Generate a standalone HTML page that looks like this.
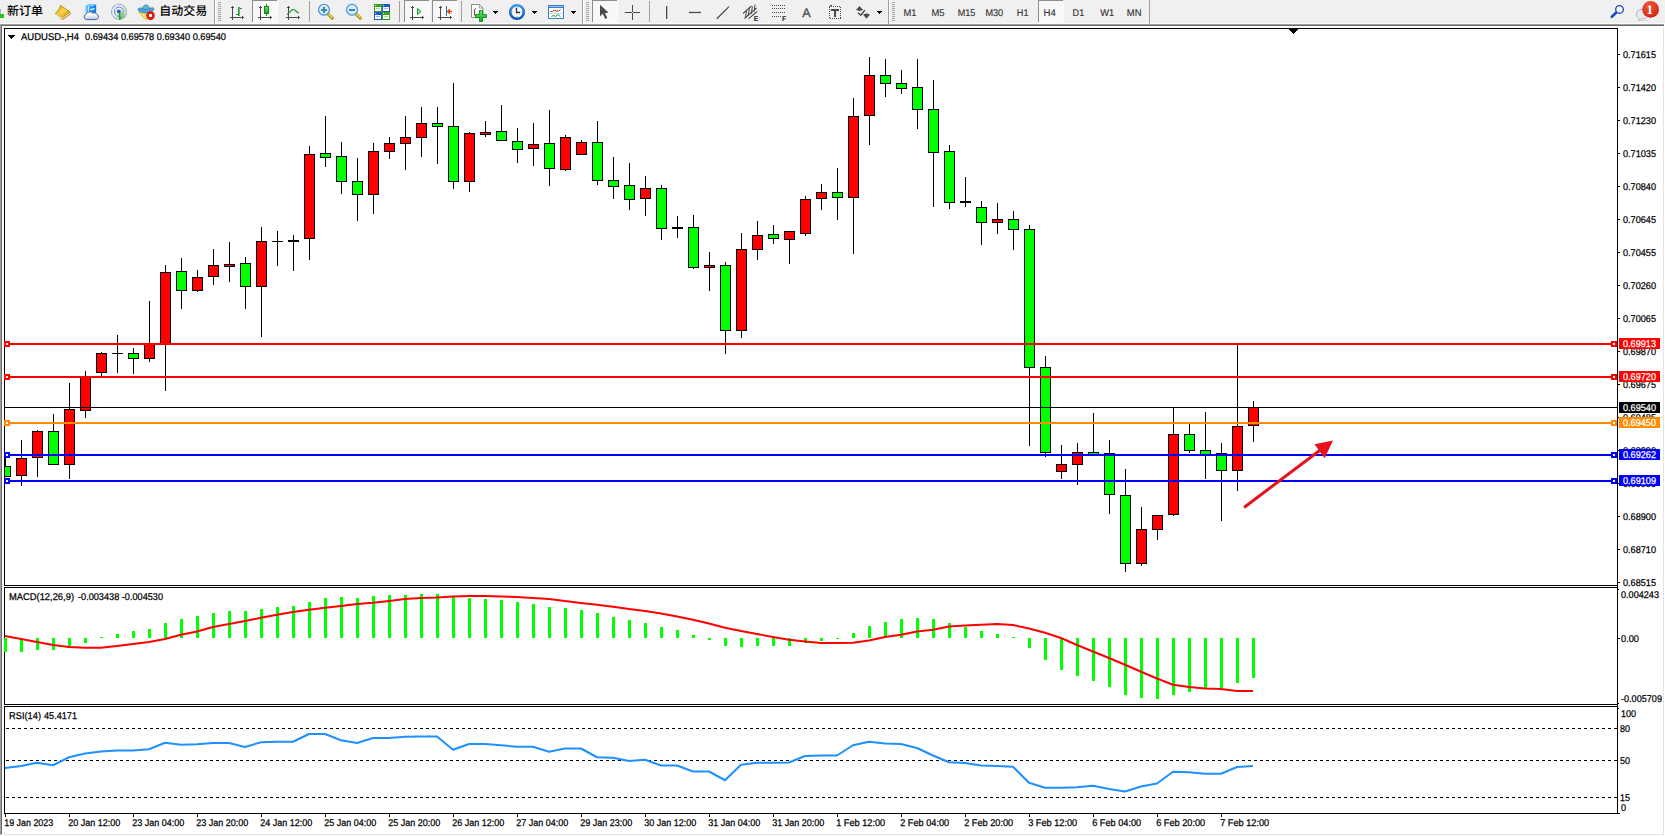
<!DOCTYPE html>
<html lang="zh"><head><meta charset="utf-8"><title>AUDUSD-,H4</title>
<style>html,body{margin:0;padding:0;background:#fff;overflow:hidden}body{width:1665px;height:836px;position:relative}text{white-space:pre}</style></head>
<body>
<svg width="1665" height="836" viewBox="0 0 1665 836" style="position:absolute;left:0;top:0;font-family:'Liberation Sans', sans-serif;text-rendering:geometricPrecision" shape-rendering="crispEdges">
<rect x="0" y="0" width="1665" height="836" fill="#fff"/>
<rect x="0" y="0" width="1665" height="24" fill="#f0f0f0"/>
<rect x="0" y="23" width="1665" height="1" fill="#fafafa"/>
<rect x="0" y="24" width="1664" height="1" fill="#a0a0a0"/>
<rect x="0" y="25" width="1664" height="1" fill="#696969"/>
<rect x="0" y="24" width="1" height="811" fill="#a0a0a0"/>
<rect x="1" y="25" width="1" height="809" fill="#696969"/>
<rect x="1663" y="27" width="1" height="808" fill="#e3e3e3"/>
<rect x="2" y="834" width="1662" height="1" fill="#e3e3e3"/>
<rect x="4" y="28" width="1614" height="1" fill="#000"/>
<rect x="4" y="585" width="1614" height="1" fill="#000"/>
<rect x="4" y="587" width="1614" height="1" fill="#000"/>
<rect x="4" y="704" width="1614" height="1" fill="#000"/>
<rect x="4" y="706" width="1614" height="1" fill="#000"/>
<rect x="4" y="813" width="1616" height="1" fill="#000"/>
<rect x="4" y="28" width="1" height="558" fill="#000"/>
<rect x="4" y="587" width="1" height="118" fill="#000"/>
<rect x="4" y="706" width="1" height="108" fill="#000"/>
<rect x="1617" y="28" width="1" height="786" fill="#000"/>
<rect x="1289" y="29" width="9" height="1" fill="#000"/>
<rect x="1290" y="30" width="7" height="1" fill="#000"/>
<rect x="1291" y="31" width="5" height="1" fill="#000"/>
<rect x="1292" y="32" width="3" height="1" fill="#000"/>
<rect x="1293" y="33" width="1" height="1" fill="#000"/>
<rect x="1618" y="54" width="2" height="1" fill="#000"/>
<text x="1623" y="57.6" font-size="9.8" fill="#000" stroke="#000" stroke-width=".25" text-anchor="start" textLength="33" lengthAdjust="spacingAndGlyphs">0.71615</text>
<rect x="1618" y="87" width="2" height="1" fill="#000"/>
<text x="1623" y="90.6" font-size="9.8" fill="#000" stroke="#000" stroke-width=".25" text-anchor="start" textLength="33" lengthAdjust="spacingAndGlyphs">0.71420</text>
<rect x="1618" y="120" width="2" height="1" fill="#000"/>
<text x="1623" y="123.6" font-size="9.8" fill="#000" stroke="#000" stroke-width=".25" text-anchor="start" textLength="33" lengthAdjust="spacingAndGlyphs">0.71230</text>
<rect x="1618" y="153" width="2" height="1" fill="#000"/>
<text x="1623" y="156.6" font-size="9.8" fill="#000" stroke="#000" stroke-width=".25" text-anchor="start" textLength="33" lengthAdjust="spacingAndGlyphs">0.71035</text>
<rect x="1618" y="186" width="2" height="1" fill="#000"/>
<text x="1623" y="189.6" font-size="9.8" fill="#000" stroke="#000" stroke-width=".25" text-anchor="start" textLength="33" lengthAdjust="spacingAndGlyphs">0.70840</text>
<rect x="1618" y="219" width="2" height="1" fill="#000"/>
<text x="1623" y="222.6" font-size="9.8" fill="#000" stroke="#000" stroke-width=".25" text-anchor="start" textLength="33" lengthAdjust="spacingAndGlyphs">0.70645</text>
<rect x="1618" y="252" width="2" height="1" fill="#000"/>
<text x="1623" y="255.6" font-size="9.8" fill="#000" stroke="#000" stroke-width=".25" text-anchor="start" textLength="33" lengthAdjust="spacingAndGlyphs">0.70455</text>
<rect x="1618" y="285" width="2" height="1" fill="#000"/>
<text x="1623" y="288.6" font-size="9.8" fill="#000" stroke="#000" stroke-width=".25" text-anchor="start" textLength="33" lengthAdjust="spacingAndGlyphs">0.70260</text>
<rect x="1618" y="318" width="2" height="1" fill="#000"/>
<text x="1623" y="321.6" font-size="9.8" fill="#000" stroke="#000" stroke-width=".25" text-anchor="start" textLength="33" lengthAdjust="spacingAndGlyphs">0.70065</text>
<rect x="1618" y="351" width="2" height="1" fill="#000"/>
<text x="1623" y="354.6" font-size="9.8" fill="#000" stroke="#000" stroke-width=".25" text-anchor="start" textLength="33" lengthAdjust="spacingAndGlyphs">0.69870</text>
<rect x="1618" y="384" width="2" height="1" fill="#000"/>
<text x="1623" y="387.6" font-size="9.8" fill="#000" stroke="#000" stroke-width=".25" text-anchor="start" textLength="33" lengthAdjust="spacingAndGlyphs">0.69675</text>
<rect x="1618" y="417" width="2" height="1" fill="#000"/>
<text x="1623" y="420.6" font-size="9.8" fill="#000" stroke="#000" stroke-width=".25" text-anchor="start" textLength="33" lengthAdjust="spacingAndGlyphs">0.69485</text>
<rect x="1618" y="450" width="2" height="1" fill="#000"/>
<text x="1623" y="453.6" font-size="9.8" fill="#000" stroke="#000" stroke-width=".25" text-anchor="start" textLength="33" lengthAdjust="spacingAndGlyphs">0.69290</text>
<rect x="1618" y="483" width="2" height="1" fill="#000"/>
<text x="1623" y="486.6" font-size="9.8" fill="#000" stroke="#000" stroke-width=".25" text-anchor="start" textLength="33" lengthAdjust="spacingAndGlyphs">0.69095</text>
<rect x="1618" y="516" width="2" height="1" fill="#000"/>
<text x="1623" y="519.6" font-size="9.8" fill="#000" stroke="#000" stroke-width=".25" text-anchor="start" textLength="33" lengthAdjust="spacingAndGlyphs">0.68900</text>
<rect x="1618" y="549" width="2" height="1" fill="#000"/>
<text x="1623" y="552.6" font-size="9.8" fill="#000" stroke="#000" stroke-width=".25" text-anchor="start" textLength="33" lengthAdjust="spacingAndGlyphs">0.68710</text>
<rect x="1618" y="582" width="2" height="1" fill="#000"/>
<text x="1623" y="585.6" font-size="9.8" fill="#000" stroke="#000" stroke-width=".25" text-anchor="start" textLength="33" lengthAdjust="spacingAndGlyphs">0.68515</text>
<g>
<rect x="5" y="457" width="1" height="20" fill="#000"/>
<rect x="5" y="466" width="6" height="11" fill="#000"/>
<rect x="5" y="467" width="5" height="9" fill="#00ff00"/>
<rect x="21" y="440" width="1" height="46" fill="#000"/>
<rect x="16" y="458" width="11" height="18" fill="#000"/>
<rect x="17" y="459" width="9" height="16" fill="#ff0000"/>
<rect x="37" y="430" width="1" height="47" fill="#000"/>
<rect x="32" y="431" width="11" height="27" fill="#000"/>
<rect x="33" y="432" width="9" height="25" fill="#ff0000"/>
<rect x="53" y="414" width="1" height="51" fill="#000"/>
<rect x="48" y="431" width="11" height="34" fill="#000"/>
<rect x="49" y="432" width="9" height="32" fill="#00ff00"/>
<rect x="69" y="383" width="1" height="96" fill="#000"/>
<rect x="64" y="409" width="11" height="56" fill="#000"/>
<rect x="65" y="410" width="9" height="54" fill="#ff0000"/>
<rect x="85" y="371" width="1" height="47" fill="#000"/>
<rect x="80" y="376" width="11" height="35" fill="#000"/>
<rect x="81" y="377" width="9" height="33" fill="#ff0000"/>
<rect x="101" y="352" width="1" height="24" fill="#000"/>
<rect x="96" y="353" width="11" height="20" fill="#000"/>
<rect x="97" y="354" width="9" height="18" fill="#ff0000"/>
<rect x="117" y="335" width="1" height="38" fill="#000"/>
<rect x="112" y="353" width="11" height="1" fill="#000"/>
<rect x="133" y="348" width="1" height="26" fill="#000"/>
<rect x="128" y="353" width="11" height="6" fill="#000"/>
<rect x="129" y="354" width="9" height="4" fill="#00ff00"/>
<rect x="149" y="301" width="1" height="61" fill="#000"/>
<rect x="144" y="344" width="11" height="15" fill="#000"/>
<rect x="145" y="345" width="9" height="13" fill="#ff0000"/>
<rect x="165" y="265" width="1" height="126" fill="#000"/>
<rect x="160" y="272" width="11" height="73" fill="#000"/>
<rect x="161" y="273" width="9" height="71" fill="#ff0000"/>
<rect x="181" y="258" width="1" height="51" fill="#000"/>
<rect x="176" y="271" width="11" height="20" fill="#000"/>
<rect x="177" y="272" width="9" height="18" fill="#00ff00"/>
<rect x="197" y="270" width="1" height="22" fill="#000"/>
<rect x="192" y="277" width="11" height="14" fill="#000"/>
<rect x="193" y="278" width="9" height="12" fill="#ff0000"/>
<rect x="213" y="249" width="1" height="36" fill="#000"/>
<rect x="208" y="265" width="11" height="12" fill="#000"/>
<rect x="209" y="266" width="9" height="10" fill="#ff0000"/>
<rect x="229" y="242" width="1" height="40" fill="#000"/>
<rect x="224" y="264" width="11" height="3" fill="#000"/>
<rect x="225" y="265" width="9" height="1" fill="#ff0000"/>
<rect x="245" y="257" width="1" height="52" fill="#000"/>
<rect x="240" y="263" width="11" height="24" fill="#000"/>
<rect x="241" y="264" width="9" height="22" fill="#00ff00"/>
<rect x="261" y="227" width="1" height="110" fill="#000"/>
<rect x="256" y="241" width="11" height="46" fill="#000"/>
<rect x="257" y="242" width="9" height="44" fill="#ff0000"/>
<rect x="277" y="231" width="1" height="35" fill="#000"/>
<rect x="272" y="241" width="11" height="1" fill="#000"/>
<rect x="293" y="235" width="1" height="36" fill="#000"/>
<rect x="288" y="240" width="11" height="2" fill="#000"/>
<rect x="309" y="146" width="1" height="114" fill="#000"/>
<rect x="304" y="154" width="11" height="85" fill="#000"/>
<rect x="305" y="155" width="9" height="83" fill="#ff0000"/>
<rect x="325" y="116" width="1" height="51" fill="#000"/>
<rect x="320" y="153" width="11" height="5" fill="#000"/>
<rect x="321" y="154" width="9" height="3" fill="#00ff00"/>
<rect x="341" y="142" width="1" height="52" fill="#000"/>
<rect x="336" y="156" width="11" height="26" fill="#000"/>
<rect x="337" y="157" width="9" height="24" fill="#00ff00"/>
<rect x="357" y="158" width="1" height="63" fill="#000"/>
<rect x="352" y="181" width="11" height="14" fill="#000"/>
<rect x="353" y="182" width="9" height="12" fill="#00ff00"/>
<rect x="373" y="143" width="1" height="71" fill="#000"/>
<rect x="368" y="151" width="11" height="44" fill="#000"/>
<rect x="369" y="152" width="9" height="42" fill="#ff0000"/>
<rect x="389" y="137" width="1" height="22" fill="#000"/>
<rect x="384" y="143" width="11" height="9" fill="#000"/>
<rect x="385" y="144" width="9" height="7" fill="#ff0000"/>
<rect x="405" y="116" width="1" height="54" fill="#000"/>
<rect x="400" y="137" width="11" height="7" fill="#000"/>
<rect x="401" y="138" width="9" height="5" fill="#ff0000"/>
<rect x="421" y="107" width="1" height="50" fill="#000"/>
<rect x="416" y="123" width="11" height="15" fill="#000"/>
<rect x="417" y="124" width="9" height="13" fill="#ff0000"/>
<rect x="437" y="107" width="1" height="57" fill="#000"/>
<rect x="432" y="123" width="11" height="4" fill="#000"/>
<rect x="433" y="124" width="9" height="2" fill="#00ff00"/>
<rect x="453" y="83" width="1" height="106" fill="#000"/>
<rect x="448" y="126" width="11" height="56" fill="#000"/>
<rect x="449" y="127" width="9" height="54" fill="#00ff00"/>
<rect x="469" y="132" width="1" height="60" fill="#000"/>
<rect x="464" y="133" width="11" height="49" fill="#000"/>
<rect x="465" y="134" width="9" height="47" fill="#ff0000"/>
<rect x="485" y="121" width="1" height="16" fill="#000"/>
<rect x="480" y="132" width="11" height="3" fill="#000"/>
<rect x="481" y="133" width="9" height="1" fill="#ff0000"/>
<rect x="501" y="105" width="1" height="36" fill="#000"/>
<rect x="496" y="131" width="11" height="10" fill="#000"/>
<rect x="497" y="132" width="9" height="8" fill="#00ff00"/>
<rect x="517" y="128" width="1" height="35" fill="#000"/>
<rect x="512" y="141" width="11" height="9" fill="#000"/>
<rect x="513" y="142" width="9" height="7" fill="#00ff00"/>
<rect x="533" y="123" width="1" height="43" fill="#000"/>
<rect x="528" y="144" width="11" height="5" fill="#000"/>
<rect x="529" y="145" width="9" height="3" fill="#ff0000"/>
<rect x="549" y="110" width="1" height="76" fill="#000"/>
<rect x="544" y="143" width="11" height="26" fill="#000"/>
<rect x="545" y="144" width="9" height="24" fill="#00ff00"/>
<rect x="565" y="135" width="1" height="36" fill="#000"/>
<rect x="560" y="137" width="11" height="33" fill="#000"/>
<rect x="561" y="138" width="9" height="31" fill="#ff0000"/>
<rect x="581" y="140" width="1" height="15" fill="#000"/>
<rect x="576" y="142" width="11" height="13" fill="#000"/>
<rect x="577" y="143" width="9" height="11" fill="#ff0000"/>
<rect x="597" y="121" width="1" height="64" fill="#000"/>
<rect x="592" y="142" width="11" height="39" fill="#000"/>
<rect x="593" y="143" width="9" height="37" fill="#00ff00"/>
<rect x="613" y="157" width="1" height="42" fill="#000"/>
<rect x="608" y="180" width="11" height="7" fill="#000"/>
<rect x="609" y="181" width="9" height="5" fill="#00ff00"/>
<rect x="629" y="163" width="1" height="47" fill="#000"/>
<rect x="624" y="185" width="11" height="15" fill="#000"/>
<rect x="625" y="186" width="9" height="13" fill="#00ff00"/>
<rect x="645" y="176" width="1" height="40" fill="#000"/>
<rect x="640" y="188" width="11" height="11" fill="#000"/>
<rect x="641" y="189" width="9" height="9" fill="#ff0000"/>
<rect x="661" y="185" width="1" height="55" fill="#000"/>
<rect x="656" y="188" width="11" height="41" fill="#000"/>
<rect x="657" y="189" width="9" height="39" fill="#00ff00"/>
<rect x="677" y="216" width="1" height="22" fill="#000"/>
<rect x="672" y="227" width="11" height="2" fill="#000"/>
<rect x="693" y="215" width="1" height="54" fill="#000"/>
<rect x="688" y="227" width="11" height="41" fill="#000"/>
<rect x="689" y="228" width="9" height="39" fill="#00ff00"/>
<rect x="709" y="252" width="1" height="39" fill="#000"/>
<rect x="704" y="265" width="11" height="3" fill="#000"/>
<rect x="705" y="266" width="9" height="1" fill="#ff0000"/>
<rect x="725" y="262" width="1" height="92" fill="#000"/>
<rect x="720" y="265" width="11" height="66" fill="#000"/>
<rect x="721" y="266" width="9" height="64" fill="#00ff00"/>
<rect x="741" y="233" width="1" height="105" fill="#000"/>
<rect x="736" y="249" width="11" height="82" fill="#000"/>
<rect x="737" y="250" width="9" height="80" fill="#ff0000"/>
<rect x="757" y="221" width="1" height="39" fill="#000"/>
<rect x="752" y="235" width="11" height="15" fill="#000"/>
<rect x="753" y="236" width="9" height="13" fill="#ff0000"/>
<rect x="773" y="225" width="1" height="19" fill="#000"/>
<rect x="768" y="234" width="11" height="5" fill="#000"/>
<rect x="769" y="235" width="9" height="3" fill="#00ff00"/>
<rect x="789" y="231" width="1" height="33" fill="#000"/>
<rect x="784" y="231" width="11" height="9" fill="#000"/>
<rect x="785" y="232" width="9" height="7" fill="#ff0000"/>
<rect x="805" y="196" width="1" height="40" fill="#000"/>
<rect x="800" y="199" width="11" height="35" fill="#000"/>
<rect x="801" y="200" width="9" height="33" fill="#ff0000"/>
<rect x="821" y="184" width="1" height="26" fill="#000"/>
<rect x="816" y="192" width="11" height="7" fill="#000"/>
<rect x="817" y="193" width="9" height="5" fill="#ff0000"/>
<rect x="837" y="168" width="1" height="52" fill="#000"/>
<rect x="832" y="192" width="11" height="6" fill="#000"/>
<rect x="833" y="193" width="9" height="4" fill="#00ff00"/>
<rect x="853" y="98" width="1" height="156" fill="#000"/>
<rect x="848" y="116" width="11" height="82" fill="#000"/>
<rect x="849" y="117" width="9" height="80" fill="#ff0000"/>
<rect x="869" y="57" width="1" height="88" fill="#000"/>
<rect x="864" y="75" width="11" height="41" fill="#000"/>
<rect x="865" y="76" width="9" height="39" fill="#ff0000"/>
<rect x="885" y="59" width="1" height="38" fill="#000"/>
<rect x="880" y="75" width="11" height="9" fill="#000"/>
<rect x="881" y="76" width="9" height="7" fill="#00ff00"/>
<rect x="901" y="70" width="1" height="24" fill="#000"/>
<rect x="896" y="83" width="11" height="6" fill="#000"/>
<rect x="897" y="84" width="9" height="4" fill="#00ff00"/>
<rect x="917" y="59" width="1" height="70" fill="#000"/>
<rect x="912" y="87" width="11" height="23" fill="#000"/>
<rect x="913" y="88" width="9" height="21" fill="#00ff00"/>
<rect x="933" y="80" width="1" height="127" fill="#000"/>
<rect x="928" y="109" width="11" height="44" fill="#000"/>
<rect x="929" y="110" width="9" height="42" fill="#00ff00"/>
<rect x="949" y="145" width="1" height="64" fill="#000"/>
<rect x="944" y="151" width="11" height="52" fill="#000"/>
<rect x="945" y="152" width="9" height="50" fill="#00ff00"/>
<rect x="965" y="177" width="1" height="30" fill="#000"/>
<rect x="960" y="201" width="11" height="2" fill="#000"/>
<rect x="981" y="201" width="1" height="44" fill="#000"/>
<rect x="976" y="207" width="11" height="16" fill="#000"/>
<rect x="977" y="208" width="9" height="14" fill="#00ff00"/>
<rect x="997" y="203" width="1" height="31" fill="#000"/>
<rect x="992" y="219" width="11" height="4" fill="#000"/>
<rect x="993" y="220" width="9" height="2" fill="#ff0000"/>
<rect x="1013" y="211" width="1" height="39" fill="#000"/>
<rect x="1008" y="219" width="11" height="11" fill="#000"/>
<rect x="1009" y="220" width="9" height="9" fill="#00ff00"/>
<rect x="1029" y="225" width="1" height="221" fill="#000"/>
<rect x="1024" y="229" width="11" height="139" fill="#000"/>
<rect x="1025" y="230" width="9" height="137" fill="#00ff00"/>
<rect x="1045" y="356" width="1" height="101" fill="#000"/>
<rect x="1040" y="367" width="11" height="86" fill="#000"/>
<rect x="1041" y="368" width="9" height="84" fill="#00ff00"/>
<rect x="1061" y="445" width="1" height="34" fill="#000"/>
<rect x="1056" y="464" width="11" height="8" fill="#000"/>
<rect x="1057" y="465" width="9" height="6" fill="#ff0000"/>
<rect x="1077" y="443" width="1" height="42" fill="#000"/>
<rect x="1072" y="452" width="11" height="13" fill="#000"/>
<rect x="1073" y="453" width="9" height="11" fill="#ff0000"/>
<rect x="1093" y="413" width="1" height="42" fill="#000"/>
<rect x="1088" y="452" width="11" height="3" fill="#000"/>
<rect x="1089" y="453" width="9" height="1" fill="#00ff00"/>
<rect x="1109" y="440" width="1" height="74" fill="#000"/>
<rect x="1104" y="453" width="11" height="42" fill="#000"/>
<rect x="1105" y="454" width="9" height="40" fill="#00ff00"/>
<rect x="1125" y="469" width="1" height="103" fill="#000"/>
<rect x="1120" y="495" width="11" height="69" fill="#000"/>
<rect x="1121" y="496" width="9" height="67" fill="#00ff00"/>
<rect x="1141" y="507" width="1" height="59" fill="#000"/>
<rect x="1136" y="529" width="11" height="35" fill="#000"/>
<rect x="1137" y="530" width="9" height="33" fill="#ff0000"/>
<rect x="1157" y="515" width="1" height="25" fill="#000"/>
<rect x="1152" y="515" width="11" height="15" fill="#000"/>
<rect x="1153" y="516" width="9" height="13" fill="#ff0000"/>
<rect x="1173" y="408" width="1" height="108" fill="#000"/>
<rect x="1168" y="434" width="11" height="81" fill="#000"/>
<rect x="1169" y="435" width="9" height="79" fill="#ff0000"/>
<rect x="1189" y="424" width="1" height="29" fill="#000"/>
<rect x="1184" y="434" width="11" height="17" fill="#000"/>
<rect x="1185" y="435" width="9" height="15" fill="#00ff00"/>
<rect x="1205" y="412" width="1" height="67" fill="#000"/>
<rect x="1200" y="450" width="11" height="5" fill="#000"/>
<rect x="1201" y="451" width="9" height="3" fill="#00ff00"/>
<rect x="1221" y="443" width="1" height="78" fill="#000"/>
<rect x="1216" y="453" width="11" height="18" fill="#000"/>
<rect x="1217" y="454" width="9" height="16" fill="#00ff00"/>
<rect x="1237" y="345" width="1" height="146" fill="#000"/>
<rect x="1232" y="426" width="11" height="45" fill="#000"/>
<rect x="1233" y="427" width="9" height="43" fill="#ff0000"/>
<rect x="1253" y="401" width="1" height="41" fill="#000"/>
<rect x="1248" y="407" width="11" height="19" fill="#000"/>
<rect x="1249" y="408" width="9" height="17" fill="#ff0000"/>
</g>
<rect x="5" y="407" width="1612" height="1" fill="#000"/>
<rect x="5" y="343" width="1612" height="2" fill="#ff0000"/>
<rect x="4" y="341" width="6" height="6" fill="#ff0000"/>
<rect x="6" y="343" width="2" height="2" fill="#fff"/>
<rect x="1611" y="341" width="6" height="6" fill="#ff0000"/>
<rect x="1613" y="343" width="2" height="2" fill="#fff"/>
<rect x="5" y="376" width="1612" height="2" fill="#ff0000"/>
<rect x="4" y="374" width="6" height="6" fill="#ff0000"/>
<rect x="6" y="376" width="2" height="2" fill="#fff"/>
<rect x="1611" y="374" width="6" height="6" fill="#ff0000"/>
<rect x="1613" y="376" width="2" height="2" fill="#fff"/>
<rect x="5" y="422" width="1612" height="2" fill="#ff8c00"/>
<rect x="4" y="420" width="6" height="6" fill="#ff8c00"/>
<rect x="6" y="422" width="2" height="2" fill="#fff"/>
<rect x="1611" y="420" width="6" height="6" fill="#ff8c00"/>
<rect x="1613" y="422" width="2" height="2" fill="#fff"/>
<rect x="5" y="454" width="1612" height="2" fill="#0000ff"/>
<rect x="4" y="452" width="6" height="6" fill="#0000ff"/>
<rect x="6" y="454" width="2" height="2" fill="#fff"/>
<rect x="1611" y="452" width="6" height="6" fill="#0000ff"/>
<rect x="1613" y="454" width="2" height="2" fill="#fff"/>
<rect x="5" y="480" width="1612" height="2" fill="#0000ff"/>
<rect x="4" y="478" width="6" height="6" fill="#0000ff"/>
<rect x="6" y="480" width="2" height="2" fill="#fff"/>
<rect x="1611" y="478" width="6" height="6" fill="#0000ff"/>
<rect x="1613" y="480" width="2" height="2" fill="#fff"/>
<rect x="1619" y="338" width="41" height="11" fill="#ff0000"/>
<text x="1623" y="347.1" font-size="9.8" fill="#fff" stroke="#fff" stroke-width=".25" text-anchor="start" textLength="33" lengthAdjust="spacingAndGlyphs">0.69913</text>
<rect x="1619" y="371" width="41" height="11" fill="#ff0000"/>
<text x="1623" y="380.1" font-size="9.8" fill="#fff" stroke="#fff" stroke-width=".25" text-anchor="start" textLength="33" lengthAdjust="spacingAndGlyphs">0.69720</text>
<rect x="1619" y="417" width="41" height="11" fill="#ff8c00"/>
<text x="1623" y="426.1" font-size="9.8" fill="#fff" stroke="#fff" stroke-width=".25" text-anchor="start" textLength="33" lengthAdjust="spacingAndGlyphs">0.69450</text>
<rect x="1619" y="449" width="41" height="11" fill="#0000ff"/>
<text x="1623" y="458.1" font-size="9.8" fill="#fff" stroke="#fff" stroke-width=".25" text-anchor="start" textLength="33" lengthAdjust="spacingAndGlyphs">0.69262</text>
<rect x="1619" y="475" width="41" height="11" fill="#0000ff"/>
<text x="1623" y="484.1" font-size="9.8" fill="#fff" stroke="#fff" stroke-width=".25" text-anchor="start" textLength="33" lengthAdjust="spacingAndGlyphs">0.69109</text>
<rect x="1619" y="402" width="41" height="11" fill="#000"/>
<text x="1623" y="411.1" font-size="9.8" fill="#fff" stroke="#fff" stroke-width=".25" text-anchor="start" textLength="33" lengthAdjust="spacingAndGlyphs">0.69540</text>
<g shape-rendering="auto">
<line x1="1244" y1="507.5" x2="1322" y2="448.7" stroke="#e8111b" stroke-width="3"/>
<path d="M1333 440.5 L1314.5 444.3 L1324.6 458.2 Z" fill="#e8111b"/>
</g>
<rect x="8" y="35" width="7" height="1" fill="#000"/>
<rect x="9" y="36" width="5" height="1" fill="#000"/>
<rect x="10" y="37" width="3" height="1" fill="#000"/>
<rect x="11" y="38" width="1" height="1" fill="#000"/>
<text x="21" y="40" font-size="9.8" fill="#000" stroke="#000" stroke-width=".25" text-anchor="start" textLength="58" lengthAdjust="spacingAndGlyphs">AUDUSD-,H4</text>
<text x="85" y="40" font-size="9.8" fill="#000" stroke="#000" stroke-width=".25" text-anchor="start" textLength="141" lengthAdjust="spacingAndGlyphs">0.69434 0.69578 0.69340 0.69540</text>
<text x="9" y="600" font-size="9.8" fill="#000" stroke="#000" stroke-width=".25" text-anchor="start" textLength="65" lengthAdjust="spacingAndGlyphs">MACD(12,26,9)</text>
<text x="78" y="600" font-size="9.8" fill="#000" stroke="#000" stroke-width=".25" text-anchor="start" textLength="85" lengthAdjust="spacingAndGlyphs">-0.003438 -0.004530</text>
<text x="9" y="719" font-size="9.8" fill="#000" stroke="#000" stroke-width=".25" text-anchor="start" textLength="32" lengthAdjust="spacingAndGlyphs">RSI(14)</text>
<text x="44" y="719" font-size="9.8" fill="#000" stroke="#000" stroke-width=".25" text-anchor="start" textLength="33" lengthAdjust="spacingAndGlyphs">45.4171</text>
<rect x="4" y="638" width="3" height="14" fill="#00ff00"/>
<rect x="20" y="638" width="3" height="14" fill="#00ff00"/>
<rect x="36" y="638" width="3" height="12" fill="#00ff00"/>
<rect x="52" y="638" width="3" height="12" fill="#00ff00"/>
<rect x="68" y="638" width="3" height="10" fill="#00ff00"/>
<rect x="84" y="638" width="3" height="5" fill="#00ff00"/>
<rect x="100" y="637" width="3" height="1" fill="#00ff00"/>
<rect x="116" y="634" width="3" height="4" fill="#00ff00"/>
<rect x="132" y="631" width="3" height="7" fill="#00ff00"/>
<rect x="148" y="629" width="3" height="9" fill="#00ff00"/>
<rect x="164" y="623" width="3" height="15" fill="#00ff00"/>
<rect x="180" y="619" width="3" height="19" fill="#00ff00"/>
<rect x="196" y="616" width="3" height="22" fill="#00ff00"/>
<rect x="212" y="613" width="3" height="25" fill="#00ff00"/>
<rect x="228" y="611" width="3" height="27" fill="#00ff00"/>
<rect x="244" y="611" width="3" height="27" fill="#00ff00"/>
<rect x="260" y="609" width="3" height="29" fill="#00ff00"/>
<rect x="276" y="607" width="3" height="31" fill="#00ff00"/>
<rect x="292" y="606" width="3" height="32" fill="#00ff00"/>
<rect x="308" y="602" width="3" height="36" fill="#00ff00"/>
<rect x="324" y="598" width="3" height="40" fill="#00ff00"/>
<rect x="340" y="597" width="3" height="41" fill="#00ff00"/>
<rect x="356" y="598" width="3" height="40" fill="#00ff00"/>
<rect x="372" y="596" width="3" height="42" fill="#00ff00"/>
<rect x="388" y="595" width="3" height="43" fill="#00ff00"/>
<rect x="404" y="595" width="3" height="43" fill="#00ff00"/>
<rect x="420" y="594" width="3" height="44" fill="#00ff00"/>
<rect x="436" y="594" width="3" height="44" fill="#00ff00"/>
<rect x="452" y="597" width="3" height="41" fill="#00ff00"/>
<rect x="468" y="598" width="3" height="40" fill="#00ff00"/>
<rect x="484" y="599" width="3" height="39" fill="#00ff00"/>
<rect x="500" y="600" width="3" height="38" fill="#00ff00"/>
<rect x="516" y="602" width="3" height="36" fill="#00ff00"/>
<rect x="532" y="604" width="3" height="34" fill="#00ff00"/>
<rect x="548" y="607" width="3" height="31" fill="#00ff00"/>
<rect x="564" y="608" width="3" height="30" fill="#00ff00"/>
<rect x="580" y="610" width="3" height="28" fill="#00ff00"/>
<rect x="596" y="613" width="3" height="25" fill="#00ff00"/>
<rect x="612" y="617" width="3" height="21" fill="#00ff00"/>
<rect x="628" y="620" width="3" height="18" fill="#00ff00"/>
<rect x="644" y="623" width="3" height="15" fill="#00ff00"/>
<rect x="660" y="627" width="3" height="11" fill="#00ff00"/>
<rect x="676" y="630" width="3" height="8" fill="#00ff00"/>
<rect x="692" y="635" width="3" height="3" fill="#00ff00"/>
<rect x="708" y="638" width="3" height="2" fill="#00ff00"/>
<rect x="724" y="638" width="3" height="8" fill="#00ff00"/>
<rect x="740" y="638" width="3" height="9" fill="#00ff00"/>
<rect x="756" y="638" width="3" height="8" fill="#00ff00"/>
<rect x="772" y="638" width="3" height="8" fill="#00ff00"/>
<rect x="788" y="638" width="3" height="8" fill="#00ff00"/>
<rect x="804" y="638" width="3" height="5" fill="#00ff00"/>
<rect x="820" y="638" width="3" height="3" fill="#00ff00"/>
<rect x="836" y="638" width="3" height="1" fill="#00ff00"/>
<rect x="852" y="633" width="3" height="5" fill="#00ff00"/>
<rect x="868" y="626" width="3" height="12" fill="#00ff00"/>
<rect x="884" y="622" width="3" height="16" fill="#00ff00"/>
<rect x="900" y="619" width="3" height="19" fill="#00ff00"/>
<rect x="916" y="618" width="3" height="20" fill="#00ff00"/>
<rect x="932" y="619" width="3" height="19" fill="#00ff00"/>
<rect x="948" y="623" width="3" height="15" fill="#00ff00"/>
<rect x="964" y="627" width="3" height="11" fill="#00ff00"/>
<rect x="980" y="631" width="3" height="7" fill="#00ff00"/>
<rect x="996" y="634" width="3" height="4" fill="#00ff00"/>
<rect x="1012" y="637" width="3" height="1" fill="#00ff00"/>
<rect x="1028" y="638" width="3" height="10" fill="#00ff00"/>
<rect x="1044" y="638" width="3" height="22" fill="#00ff00"/>
<rect x="1060" y="638" width="3" height="32" fill="#00ff00"/>
<rect x="1076" y="638" width="3" height="38" fill="#00ff00"/>
<rect x="1092" y="638" width="3" height="43" fill="#00ff00"/>
<rect x="1108" y="638" width="3" height="49" fill="#00ff00"/>
<rect x="1124" y="638" width="3" height="57" fill="#00ff00"/>
<rect x="1140" y="638" width="3" height="60" fill="#00ff00"/>
<rect x="1156" y="638" width="3" height="61" fill="#00ff00"/>
<rect x="1172" y="638" width="3" height="57" fill="#00ff00"/>
<rect x="1188" y="638" width="3" height="54" fill="#00ff00"/>
<rect x="1204" y="638" width="3" height="51" fill="#00ff00"/>
<rect x="1220" y="638" width="3" height="50" fill="#00ff00"/>
<rect x="1236" y="638" width="3" height="45" fill="#00ff00"/>
<rect x="1252" y="638" width="3" height="40" fill="#00ff00"/>
<polyline points="5,636 21,639 37,642 53,645 69,647 85,647.75 101,647.75 117,646 133,644 149,642 165,639 181,634.75 197,631.5 213,627 229,624 245,621 261,617.75 277,614.75 293,612 309,609.75 325,607.75 341,606 357,604 373,602.75 389,601 405,599 421,598 437,597.5 453,596.5 469,596 485,596 501,596.5 517,597 533,598 549,599 565,601 581,603 597,604.75 613,606.75 629,609 645,611 661,613.5 677,616.5 693,619.75 709,623.5 725,627.75 741,631 757,634 773,637 789,639.75 805,641.5 821,643 837,643 853,642.75 869,640.5 885,637 901,634.75 917,631.5 933,629.75 949,626.5 965,625.5 981,624.75 997,624 1013,625 1029,628.5 1045,632.75 1061,638 1077,645 1093,651.5 1109,658 1125,664.75 1141,671.75 1157,678.5 1173,684.75 1189,687 1205,688.5 1221,689 1237,691 1253,691" fill="none" stroke="#ff0000" stroke-width="2" shape-rendering="auto" stroke-linejoin="round"/>
<rect x="1618" y="638" width="2" height="1" fill="#000"/>
<text x="1621" y="642" font-size="9.8" fill="#000" stroke="#000" stroke-width=".25" text-anchor="start" textLength="18" lengthAdjust="spacingAndGlyphs">0.00</text>
<text x="1621" y="598" font-size="9.8" fill="#000" stroke="#000" stroke-width=".25" text-anchor="start" textLength="38" lengthAdjust="spacingAndGlyphs">0.004243</text>
<text x="1621" y="701.5" font-size="9.8" fill="#000" stroke="#000" stroke-width=".25" text-anchor="start" textLength="41" lengthAdjust="spacingAndGlyphs">-0.005709</text>
<line x1="6" x2="1617" y1="728.5" y2="728.5" stroke="#000" stroke-width="1" stroke-dasharray="3 3"/>
<line x1="6" x2="1617" y1="760.5" y2="760.5" stroke="#000" stroke-width="1" stroke-dasharray="3 3"/>
<line x1="6" x2="1617" y1="797.5" y2="797.5" stroke="#000" stroke-width="1" stroke-dasharray="3 3"/>
<polyline points="5,768 21,766 37,762.75 53,765.25 69,757.25 85,753.5 101,751.5 117,750.5 133,750.5 149,749.25 165,742.75 181,744.75 197,744.25 213,743 229,743 245,747 261,742.25 277,741.75 293,741.75 309,734 325,734 341,740.25 357,743 373,738 389,738 405,736.75 421,736.5 437,736.5 453,749.75 469,744 485,744 501,745.25 517,746.75 533,746.75 549,751.75 565,748.5 581,748.5 597,757.25 613,757.75 629,761 645,759.75 661,765.5 677,765.5 693,771.5 709,771.5 725,780.25 741,764.75 757,762.75 773,762.75 789,762.5 805,756 821,755.5 837,755.5 853,745.25 869,741.75 885,743.5 901,744 917,748 933,755.5 949,762.25 965,763 981,765.5 997,766 1013,766.75 1029,782.75 1045,787.75 1061,787.75 1077,787.25 1093,785.75 1109,789 1125,791.5 1141,786.5 1157,783.5 1173,771.75 1189,772.25 1205,773.75 1221,773.75 1237,767 1253,766" fill="none" stroke="#1e90ff" stroke-width="2" shape-rendering="auto" stroke-linejoin="round"/>
<text x="1621" y="717" font-size="9.8" fill="#000" stroke="#000" stroke-width=".25" text-anchor="start" textLength="15" lengthAdjust="spacingAndGlyphs">100</text>
<text x="1620" y="732" font-size="9.8" fill="#000" stroke="#000" stroke-width=".25" text-anchor="start" textLength="10" lengthAdjust="spacingAndGlyphs">80</text>
<text x="1620" y="764" font-size="9.8" fill="#000" stroke="#000" stroke-width=".25" text-anchor="start" textLength="10" lengthAdjust="spacingAndGlyphs">50</text>
<text x="1620" y="801" font-size="9.8" fill="#000" stroke="#000" stroke-width=".25" text-anchor="start" textLength="10" lengthAdjust="spacingAndGlyphs">15</text>
<text x="1621" y="811" font-size="9.8" fill="#000" stroke="#000" stroke-width=".25" text-anchor="start" textLength="5" lengthAdjust="spacingAndGlyphs">0</text>
<rect x="1618" y="589" width="1" height="1" fill="#000"/>
<rect x="1618" y="703" width="1" height="1" fill="#000"/>
<rect x="1618" y="708" width="1" height="1" fill="#000"/>
<rect x="5" y="813" width="1" height="4" fill="#000"/>
<text x="4.2" y="826" font-size="9.8" fill="#000" stroke="#000" stroke-width=".25" text-anchor="start" textLength="49" lengthAdjust="spacingAndGlyphs">19 Jan 2023</text>
<rect x="69" y="813" width="1" height="4" fill="#000"/>
<text x="68.2" y="826" font-size="9.8" fill="#000" stroke="#000" stroke-width=".25" text-anchor="start" textLength="52" lengthAdjust="spacingAndGlyphs">20 Jan 12:00</text>
<rect x="133" y="813" width="1" height="4" fill="#000"/>
<text x="132.2" y="826" font-size="9.8" fill="#000" stroke="#000" stroke-width=".25" text-anchor="start" textLength="52" lengthAdjust="spacingAndGlyphs">23 Jan 04:00</text>
<rect x="197" y="813" width="1" height="4" fill="#000"/>
<text x="196.2" y="826" font-size="9.8" fill="#000" stroke="#000" stroke-width=".25" text-anchor="start" textLength="52" lengthAdjust="spacingAndGlyphs">23 Jan 20:00</text>
<rect x="261" y="813" width="1" height="4" fill="#000"/>
<text x="260.2" y="826" font-size="9.8" fill="#000" stroke="#000" stroke-width=".25" text-anchor="start" textLength="52" lengthAdjust="spacingAndGlyphs">24 Jan 12:00</text>
<rect x="325" y="813" width="1" height="4" fill="#000"/>
<text x="324.2" y="826" font-size="9.8" fill="#000" stroke="#000" stroke-width=".25" text-anchor="start" textLength="52" lengthAdjust="spacingAndGlyphs">25 Jan 04:00</text>
<rect x="389" y="813" width="1" height="4" fill="#000"/>
<text x="388.2" y="826" font-size="9.8" fill="#000" stroke="#000" stroke-width=".25" text-anchor="start" textLength="52" lengthAdjust="spacingAndGlyphs">25 Jan 20:00</text>
<rect x="453" y="813" width="1" height="4" fill="#000"/>
<text x="452.2" y="826" font-size="9.8" fill="#000" stroke="#000" stroke-width=".25" text-anchor="start" textLength="52" lengthAdjust="spacingAndGlyphs">26 Jan 12:00</text>
<rect x="517" y="813" width="1" height="4" fill="#000"/>
<text x="516.2" y="826" font-size="9.8" fill="#000" stroke="#000" stroke-width=".25" text-anchor="start" textLength="52" lengthAdjust="spacingAndGlyphs">27 Jan 04:00</text>
<rect x="581" y="813" width="1" height="4" fill="#000"/>
<text x="580.2" y="826" font-size="9.8" fill="#000" stroke="#000" stroke-width=".25" text-anchor="start" textLength="52" lengthAdjust="spacingAndGlyphs">29 Jan 23:00</text>
<rect x="645" y="813" width="1" height="4" fill="#000"/>
<text x="644.2" y="826" font-size="9.8" fill="#000" stroke="#000" stroke-width=".25" text-anchor="start" textLength="52" lengthAdjust="spacingAndGlyphs">30 Jan 12:00</text>
<rect x="709" y="813" width="1" height="4" fill="#000"/>
<text x="708.2" y="826" font-size="9.8" fill="#000" stroke="#000" stroke-width=".25" text-anchor="start" textLength="52" lengthAdjust="spacingAndGlyphs">31 Jan 04:00</text>
<rect x="773" y="813" width="1" height="4" fill="#000"/>
<text x="772.2" y="826" font-size="9.8" fill="#000" stroke="#000" stroke-width=".25" text-anchor="start" textLength="52" lengthAdjust="spacingAndGlyphs">31 Jan 20:00</text>
<rect x="837" y="813" width="1" height="4" fill="#000"/>
<text x="836.2" y="826" font-size="9.8" fill="#000" stroke="#000" stroke-width=".25" text-anchor="start" textLength="49" lengthAdjust="spacingAndGlyphs">1 Feb 12:00</text>
<rect x="901" y="813" width="1" height="4" fill="#000"/>
<text x="900.2" y="826" font-size="9.8" fill="#000" stroke="#000" stroke-width=".25" text-anchor="start" textLength="49" lengthAdjust="spacingAndGlyphs">2 Feb 04:00</text>
<rect x="965" y="813" width="1" height="4" fill="#000"/>
<text x="964.2" y="826" font-size="9.8" fill="#000" stroke="#000" stroke-width=".25" text-anchor="start" textLength="49" lengthAdjust="spacingAndGlyphs">2 Feb 20:00</text>
<rect x="1029" y="813" width="1" height="4" fill="#000"/>
<text x="1028.2" y="826" font-size="9.8" fill="#000" stroke="#000" stroke-width=".25" text-anchor="start" textLength="49" lengthAdjust="spacingAndGlyphs">3 Feb 12:00</text>
<rect x="1093" y="813" width="1" height="4" fill="#000"/>
<text x="1092.2" y="826" font-size="9.8" fill="#000" stroke="#000" stroke-width=".25" text-anchor="start" textLength="49" lengthAdjust="spacingAndGlyphs">6 Feb 04:00</text>
<rect x="1157" y="813" width="1" height="4" fill="#000"/>
<text x="1156.2" y="826" font-size="9.8" fill="#000" stroke="#000" stroke-width=".25" text-anchor="start" textLength="49" lengthAdjust="spacingAndGlyphs">6 Feb 20:00</text>
<rect x="1221" y="813" width="1" height="4" fill="#000"/>
<text x="1220.2" y="826" font-size="9.8" fill="#000" stroke="#000" stroke-width=".25" text-anchor="start" textLength="49" lengthAdjust="spacingAndGlyphs">7 Feb 12:00</text>
<g shape-rendering="auto">
<rect x="0" y="14" width="4" height="4" fill="#1ec81e" shape-rendering="crispEdges"/>
<rect x="0" y="9" width="1" height="5" fill="#b4b4b4" shape-rendering="crispEdges"/>
<text x="7" y="15.2" font-size="12" font-weight="500" fill="#000" style="font-family:'Liberation Sans', 'Noto Sans CJK SC', sans-serif">新订单</text>
<defs><linearGradient id="gd" x1="0" y1="0" x2="1" y2="1"><stop offset="0" stop-color="#d9a514"/><stop offset=".5" stop-color="#f7d44a"/><stop offset="1" stop-color="#c98f0c"/></linearGradient><linearGradient id="bl" x1="0" y1="0" x2="1" y2="0"><stop offset="0" stop-color="#8fd0ff"/><stop offset=".35" stop-color="#2e9bf5"/><stop offset="1" stop-color="#1278e0"/></linearGradient><radialGradient id="rd" cx=".4" cy=".3" r=".8"><stop offset="0" stop-color="#ec5a3a"/><stop offset="1" stop-color="#d41c0c"/></radialGradient><linearGradient id="ck" x1="0" y1="0" x2="0" y2="1"><stop offset="0" stop-color="#3a96ee"/><stop offset="1" stop-color="#0c55b8"/></linearGradient><linearGradient id="gp" x1="0" y1="0" x2="0" y2="1"><stop offset="0" stop-color="#5fe86a"/><stop offset="1" stop-color="#12a81e"/></linearGradient></defs>
<path d="M55.2 13.800 L62.800 19.900 L70.900 14.100 L70 11.700 L60.500 5.200 Q59.800 9 55.200 13.800 Z" fill="#b07a0a"/>
<path d="M56 14.300 L62.800 19 L70.200 13.700 L69.600 12.200 L62.600 17.200 Z" fill="#ead9a0"/>
<path d="M55.400 13.600 Q59.800 9 60.600 5.500 L69.800 11.800 L62.700 17.300 Z" fill="url(#gd)" stroke="#b8820c" stroke-width=".7"/>
<path d="M56 14 L62.700 18.200" stroke="#f6dc70" stroke-width="1.100"/>
<path d="M85.300 5.800 L88.600 4.300 L96.200 4.500 L96.200 14.500 L88.300 15 L85.300 13.500 Z" fill="url(#bl)"/>
<path d="M85.300 5.800 L88.600 4.300 L96.200 4.500 L93 6.200 L88.600 6.300 Z" fill="#7fcfff"/>
<path d="M88.600 6 V15" stroke="#e6f6ff" stroke-width=".9"/>
<path d="M90.300 9.600 L94.600 8.600" stroke="#eaf6ff" stroke-width="1.200"/>
<defs><linearGradient id="cl" x1="0" y1="0" x2="0" y2="1"><stop offset=".35" stop-color="#ffffff"/><stop offset="1" stop-color="#b4c4de"/></linearGradient><radialGradient id="sw" cx="0" cy="0" r="1" gradientUnits="userSpaceOnUse" gradientTransform="translate(119.300 19) scale(9)"><stop offset="0" stop-color="#1f9a2c" stop-opacity=".95"/><stop offset="1" stop-color="#9ccf9c" stop-opacity=".35"/></radialGradient></defs>
<path d="M86.300 19.600 a2.900 2.900 0 0 1 0 -5.600 a4 4 0 0 1 6.600 -.800 a2.600 2.600 0 0 1 3.600 .800 a2.900 2.900 0 0 1 -.300 5.600 z" fill="url(#cl)" stroke="#4a68a6" stroke-width="1"/>
<path d="M119.300 11.700 L119.300 19.800 A8 8 0 0 0 124.500 5.800 Z" fill="url(#sw)"/>
<path d="M122.75 5.20 A7.5 7.5 0 1 0 119 19.2" fill="none" stroke="#3866d0" stroke-width="1.100" opacity="0.5" stroke-dasharray="6 .8"/>
<path d="M122.75 5.20 A7.5 7.5 0 0 1 124.25 17.05" fill="none" stroke="#4a7a9a" stroke-width="1.100" opacity="0.35"/>
<path d="M121.30 7.72 A4.6 4.6 0 1 0 119 16.299999999999997" fill="none" stroke="#3866d0" stroke-width="1.100" opacity="0.75" stroke-dasharray="6 .8"/>
<path d="M121.30 7.72 A4.6 4.6 0 0 1 122.22 14.98" fill="none" stroke="#4a7a9a" stroke-width="1.100" opacity="0.5249999999999999"/>
<circle cx="118.800" cy="11.400" r="1.900" fill="#2458cc"/>
<path d="M119.500 12 V19.800" stroke="#18a028" stroke-width="1.500"/>
<path d="M138.500 12 L153 11.500 L150 16 L146 19.800 Z" fill="#f8e468" stroke="#d0a820" stroke-width=".8"/>
<path d="M142.300 9.500 C142.300 3.500 149.700 3.500 149.700 9.500 Z" fill="#62b2e0" stroke="#2f7fae" stroke-width=".8"/>
<path d="M138 9.500 C139 7 141 8 142.500 8.600 C145 9.800 147 9.800 149.500 8.600 C151.500 7.600 153.500 7 154 9 C153 12 147 13 146 13 C143 13 139 12 138 9.500 Z" fill="#4ea2d6" stroke="#2f7fae" stroke-width=".8"/>
<circle cx="150.500" cy="15.600" r="4.300" fill="#e01c0c"/>
<rect x="149" y="14" width="3" height="3" fill="#fff" shape-rendering="crispEdges"/>
<text x="159.200" y="15.200" font-size="12" font-weight="500" fill="#000" style="font-family:'Liberation Sans', 'Noto Sans CJK SC', sans-serif">自动交易</text>
<rect x="214" y="0" width="1" height="24" fill="#a0a0a0" shape-rendering="crispEdges"/>
<rect x="215" y="0" width="1" height="24" fill="#ffffff" shape-rendering="crispEdges"/>
<rect x="218" y="2" width="3" height="1" fill="#a6a6a6" shape-rendering="crispEdges"/>
<rect x="218" y="4" width="3" height="1" fill="#a6a6a6" shape-rendering="crispEdges"/>
<rect x="218" y="6" width="3" height="1" fill="#a6a6a6" shape-rendering="crispEdges"/>
<rect x="218" y="8" width="3" height="1" fill="#a6a6a6" shape-rendering="crispEdges"/>
<rect x="218" y="10" width="3" height="1" fill="#a6a6a6" shape-rendering="crispEdges"/>
<rect x="218" y="12" width="3" height="1" fill="#a6a6a6" shape-rendering="crispEdges"/>
<rect x="218" y="14" width="3" height="1" fill="#a6a6a6" shape-rendering="crispEdges"/>
<rect x="218" y="16" width="3" height="1" fill="#a6a6a6" shape-rendering="crispEdges"/>
<rect x="218" y="18" width="3" height="1" fill="#a6a6a6" shape-rendering="crispEdges"/>
<rect x="218" y="20" width="3" height="1" fill="#a6a6a6" shape-rendering="crispEdges"/>
<rect x="232" y="6" width="1" height="14" fill="#4a4a4a" shape-rendering="crispEdges"/>
<rect x="231" y="7" width="3" height="1" fill="#4a4a4a" shape-rendering="crispEdges"/>
<rect x="230" y="17" width="14" height="1" fill="#4a4a4a" shape-rendering="crispEdges"/>
<rect x="242" y="16" width="1" height="3" fill="#4a4a4a" shape-rendering="crispEdges"/>
<rect x="238" y="7" width="1.600" height="9" fill="#1c9a2c"/>
<rect x="240" y="8" width="2" height="1" fill="#1c9a2c" shape-rendering="crispEdges"/>
<rect x="236" y="14" width="2" height="1" fill="#1c9a2c" shape-rendering="crispEdges"/>
<rect x="252" y="0" width="25" height="22" fill="#f8f8f8" shape-rendering="crispEdges"/>
<rect x="252" y="0" width="1" height="22" fill="#8c8c8c" shape-rendering="crispEdges"/>
<rect x="252" y="0" width="25" height="1" fill="#8c8c8c" shape-rendering="crispEdges"/>
<rect x="277" y="1" width="1" height="22" fill="#fbfbfb" shape-rendering="crispEdges"/>
<rect x="252" y="22" width="26" height="1" fill="#fbfbfb" shape-rendering="crispEdges"/>
<rect x="260" y="6" width="1" height="14" fill="#4a4a4a" shape-rendering="crispEdges"/>
<rect x="259" y="7" width="3" height="1" fill="#4a4a4a" shape-rendering="crispEdges"/>
<rect x="258" y="17" width="14" height="1" fill="#4a4a4a" shape-rendering="crispEdges"/>
<rect x="270" y="16" width="1" height="3" fill="#4a4a4a" shape-rendering="crispEdges"/>
<rect x="266" y="4" width="1" height="12" fill="#138a20" shape-rendering="crispEdges"/>
<rect x="264.500" y="6.500" width="4" height="7" fill="url(#gp)" stroke="#138a20" stroke-width="1"/>
<rect x="288" y="6" width="1" height="14" fill="#4a4a4a" shape-rendering="crispEdges"/>
<rect x="287" y="7" width="3" height="1" fill="#4a4a4a" shape-rendering="crispEdges"/>
<rect x="286" y="17" width="14" height="1" fill="#4a4a4a" shape-rendering="crispEdges"/>
<rect x="298" y="16" width="1" height="3" fill="#4a4a4a" shape-rendering="crispEdges"/>
<path d="M287 14.600 C290 12.500 291.500 9.300 293.300 9.300 C295 9.300 296.500 12.300 298.800 13" stroke="#2a9a3a" stroke-width="1.300" fill="none"/>
<rect x="309" y="1" width="1" height="21" fill="#a0a0a0" shape-rendering="crispEdges"/>
<path d="M328 13.800 l4.300 4.300" stroke="#b88a10" stroke-width="3.200" stroke-linecap="round"/>
<path d="M328.2 13.600 l4 4" stroke="#f2d858" stroke-width="1.400" stroke-linecap="round"/>
<circle cx="324" cy="9.700" r="5.400" fill="#d6effc" stroke="#3c86d2" stroke-width="1.100"/>
<rect x="321" y="9" width="6" height="2" fill="#3a86b6" shape-rendering="crispEdges"/>
<rect x="323" y="7" width="2" height="6" fill="#3a86b6" shape-rendering="crispEdges"/>
<path d="M356 13.800 l4.300 4.300" stroke="#b88a10" stroke-width="3.200" stroke-linecap="round"/>
<path d="M356.2 13.600 l4 4" stroke="#f2d858" stroke-width="1.400" stroke-linecap="round"/>
<circle cx="352" cy="9.700" r="5.400" fill="#d6effc" stroke="#3c86d2" stroke-width="1.100"/>
<rect x="349" y="9" width="6" height="2" fill="#3a86b6" shape-rendering="crispEdges"/>
<rect x="374" y="4" width="8" height="8" fill="#3aa21e" shape-rendering="crispEdges"/>
<rect x="375" y="7" width="6" height="4" fill="#ffffff" shape-rendering="crispEdges"/>
<rect x="376" y="8" width="4" height="1" fill="#3aa21e" shape-rendering="crispEdges" opacity=".45"/>
<rect x="375" y="5" width="1" height="1" fill="#ffffff" shape-rendering="crispEdges" opacity=".7"/>
<rect x="382" y="4" width="8" height="8" fill="#2056d2" shape-rendering="crispEdges"/>
<rect x="383" y="7" width="6" height="4" fill="#ffffff" shape-rendering="crispEdges"/>
<rect x="384" y="8" width="4" height="1" fill="#2056d2" shape-rendering="crispEdges" opacity=".45"/>
<rect x="383" y="5" width="1" height="1" fill="#ffffff" shape-rendering="crispEdges" opacity=".7"/>
<rect x="374" y="12" width="8" height="8" fill="#2056d2" shape-rendering="crispEdges"/>
<rect x="375" y="15" width="6" height="4" fill="#ffffff" shape-rendering="crispEdges"/>
<rect x="376" y="16" width="4" height="1" fill="#2056d2" shape-rendering="crispEdges" opacity=".45"/>
<rect x="375" y="13" width="1" height="1" fill="#ffffff" shape-rendering="crispEdges" opacity=".7"/>
<rect x="382" y="12" width="8" height="8" fill="#3aa21e" shape-rendering="crispEdges"/>
<rect x="383" y="15" width="6" height="4" fill="#ffffff" shape-rendering="crispEdges"/>
<rect x="384" y="16" width="4" height="1" fill="#3aa21e" shape-rendering="crispEdges" opacity=".45"/>
<rect x="383" y="13" width="1" height="1" fill="#ffffff" shape-rendering="crispEdges" opacity=".7"/>
<rect x="399" y="1" width="1" height="21" fill="#a0a0a0" shape-rendering="crispEdges"/>
<rect x="404" y="0" width="25" height="22" fill="#f8f8f8" shape-rendering="crispEdges"/>
<rect x="404" y="0" width="1" height="22" fill="#8c8c8c" shape-rendering="crispEdges"/>
<rect x="404" y="0" width="25" height="1" fill="#8c8c8c" shape-rendering="crispEdges"/>
<rect x="429" y="1" width="1" height="22" fill="#fbfbfb" shape-rendering="crispEdges"/>
<rect x="404" y="22" width="26" height="1" fill="#fbfbfb" shape-rendering="crispEdges"/>
<rect x="412" y="6" width="1" height="14" fill="#4a4a4a" shape-rendering="crispEdges"/>
<rect x="411" y="7" width="3" height="1" fill="#4a4a4a" shape-rendering="crispEdges"/>
<rect x="410" y="17" width="14" height="1" fill="#4a4a4a" shape-rendering="crispEdges"/>
<rect x="422" y="16" width="1" height="3" fill="#4a4a4a" shape-rendering="crispEdges"/>
<path d="M417.500 8.500 L421 11.500 L417.500 14.500 Z" fill="#8af08e" stroke="#1e9e2c" stroke-width="1"/>
<rect x="432" y="0" width="25" height="22" fill="#f8f8f8" shape-rendering="crispEdges"/>
<rect x="432" y="0" width="1" height="22" fill="#8c8c8c" shape-rendering="crispEdges"/>
<rect x="432" y="0" width="25" height="1" fill="#8c8c8c" shape-rendering="crispEdges"/>
<rect x="457" y="1" width="1" height="22" fill="#fbfbfb" shape-rendering="crispEdges"/>
<rect x="432" y="22" width="26" height="1" fill="#fbfbfb" shape-rendering="crispEdges"/>
<rect x="440" y="6" width="1" height="14" fill="#4a4a4a" shape-rendering="crispEdges"/>
<rect x="439" y="7" width="3" height="1" fill="#4a4a4a" shape-rendering="crispEdges"/>
<rect x="438" y="17" width="14" height="1" fill="#4a4a4a" shape-rendering="crispEdges"/>
<rect x="450" y="16" width="1" height="3" fill="#4a4a4a" shape-rendering="crispEdges"/>
<rect x="446" y="6" width="1" height="10" fill="#2272b4" shape-rendering="crispEdges"/>
<path d="M447.500 11.500 h4.500 M450 9.300 l-2.500 2.200 l2.500 2.200" stroke="#d2400c" stroke-width="1.300" fill="none"/>
<rect x="461" y="1" width="1" height="21" fill="#a0a0a0" shape-rendering="crispEdges"/>
<path d="M471.500 4.500 h8 l3.500 3.500 v9.500 h-11.500 z" fill="#fbfbfb" stroke="#8e8e8e" stroke-width="1"/>
<path d="M479.500 4.500 v3.500 h3.500" fill="none" stroke="#8e8e8e" stroke-width=".8"/>
<path d="M476 8.500 c-1.500 0 -1.500 1 -1.500 2.500 v3 c0 1.500 0 2 1.500 2" fill="none" stroke="#6a5a3a" stroke-width="1"/>
<path d="M479.500 10.500 h3 v4 h4 v3 h-4 v4 h-3 v-4 h-4 v-3 h4 z" fill="url(#gp)" stroke="#0f8a1a" stroke-width=".9"/>
<rect x="493" y="11" width="5" height="1" fill="#000" shape-rendering="crispEdges"/>
<rect x="494" y="12" width="3" height="1" fill="#000" shape-rendering="crispEdges"/>
<rect x="495" y="13" width="1" height="1" fill="#000" shape-rendering="crispEdges"/>
<circle cx="517" cy="12" r="6.800" fill="#f4f6fa" stroke="url(#ck)" stroke-width="2.600"/>
<path d="M516.500 8 v4.500 h3.500" stroke="#333" stroke-width="1.300" fill="none"/>
<path d="M517 6.800v1M517 16.200v1M511.800 12h1M521.200 12h1" stroke="#888" stroke-width=".8"/>
<rect x="532" y="11" width="5" height="1" fill="#000" shape-rendering="crispEdges"/>
<rect x="533" y="12" width="3" height="1" fill="#000" shape-rendering="crispEdges"/>
<rect x="534" y="13" width="1" height="1" fill="#000" shape-rendering="crispEdges"/>
<rect x="548" y="5" width="16" height="14" fill="#3a7ccc" shape-rendering="crispEdges"/>
<rect x="549" y="8" width="14" height="10" fill="#ffffff" shape-rendering="crispEdges"/>
<rect x="549" y="6" width="14" height="1" fill="#9cc4ee" shape-rendering="crispEdges"/>
<rect x="549" y="13" width="14" height="1" fill="#c4d8f0" shape-rendering="crispEdges"/>
<path d="M550.500 11.500 l2 0 l2 -1.500 l2 1 l2 0 l2 -1.500" stroke="#a02808" stroke-width="1" fill="none"/>
<path d="M551.500 16.500 l2 -1 l2 1 l2.500 -2 l2.500 2.300" stroke="#169a26" stroke-width="1" fill="none"/>
<rect x="571" y="11" width="5" height="1" fill="#000" shape-rendering="crispEdges"/>
<rect x="572" y="12" width="3" height="1" fill="#000" shape-rendering="crispEdges"/>
<rect x="573" y="13" width="1" height="1" fill="#000" shape-rendering="crispEdges"/>
<rect x="582" y="0" width="1" height="24" fill="#a0a0a0" shape-rendering="crispEdges"/>
<rect x="583" y="0" width="1" height="24" fill="#ffffff" shape-rendering="crispEdges"/>
<rect x="586" y="2" width="3" height="1" fill="#a6a6a6" shape-rendering="crispEdges"/>
<rect x="586" y="4" width="3" height="1" fill="#a6a6a6" shape-rendering="crispEdges"/>
<rect x="586" y="6" width="3" height="1" fill="#a6a6a6" shape-rendering="crispEdges"/>
<rect x="586" y="8" width="3" height="1" fill="#a6a6a6" shape-rendering="crispEdges"/>
<rect x="586" y="10" width="3" height="1" fill="#a6a6a6" shape-rendering="crispEdges"/>
<rect x="586" y="12" width="3" height="1" fill="#a6a6a6" shape-rendering="crispEdges"/>
<rect x="586" y="14" width="3" height="1" fill="#a6a6a6" shape-rendering="crispEdges"/>
<rect x="586" y="16" width="3" height="1" fill="#a6a6a6" shape-rendering="crispEdges"/>
<rect x="586" y="18" width="3" height="1" fill="#a6a6a6" shape-rendering="crispEdges"/>
<rect x="586" y="20" width="3" height="1" fill="#a6a6a6" shape-rendering="crispEdges"/>
<rect x="592" y="0" width="25" height="22" fill="#f8f8f8" shape-rendering="crispEdges"/>
<rect x="592" y="0" width="1" height="22" fill="#8c8c8c" shape-rendering="crispEdges"/>
<rect x="592" y="0" width="25" height="1" fill="#8c8c8c" shape-rendering="crispEdges"/>
<rect x="617" y="1" width="1" height="22" fill="#fbfbfb" shape-rendering="crispEdges"/>
<rect x="592" y="22" width="26" height="1" fill="#fbfbfb" shape-rendering="crispEdges"/>
<path d="M600 4.800 V16.200 L602.800 13.700 L605.300 19 L607.400 18 L604.900 12.900 L608.600 12.700 Z" fill="#4a4a4a"/>
<rect x="625" y="12" width="7" height="1" fill="#4a4a4a" shape-rendering="crispEdges"/>
<rect x="633" y="12" width="7" height="1" fill="#4a4a4a" shape-rendering="crispEdges"/>
<rect x="632" y="5" width="1" height="7" fill="#4a4a4a" shape-rendering="crispEdges"/>
<rect x="632" y="13" width="1" height="7" fill="#4a4a4a" shape-rendering="crispEdges"/>
<rect x="649" y="1" width="1" height="21" fill="#a0a0a0" shape-rendering="crispEdges"/>
<rect x="666" y="6" width="1.300" height="13" fill="#4a4a4a"/>
<rect x="689" y="11.800" width="12" height="1.300" fill="#4a4a4a"/>
<path d="M716.800 18.800 L729 6.600" stroke="#4a4a4a" stroke-width="1.300"/>
<path d="M743 13.500 L751.500 6 M744.500 18.500 L756.500 8 M748.500 18.800 L757 11.500" stroke="#4a4a4a" stroke-width="1.100" fill="none"/>
<path d="M746.500 11 l-1 6 M749.500 8.500 l-1.500 7.500 M752.500 6.500 l-1.500 7.500 M755 4.500 l-.8 7" stroke="#4a4a4a" stroke-width="1" fill="none"/>
<text x="753.800" y="21" font-size="7" font-weight="bold" fill="#222">E</text>
<rect x="772" y="5" width="1" height="1" fill="#4a4a4a" shape-rendering="crispEdges"/>
<rect x="774" y="5" width="1" height="1" fill="#4a4a4a" shape-rendering="crispEdges"/>
<rect x="776" y="5" width="1" height="1" fill="#4a4a4a" shape-rendering="crispEdges"/>
<rect x="778" y="5" width="1" height="1" fill="#4a4a4a" shape-rendering="crispEdges"/>
<rect x="780" y="5" width="1" height="1" fill="#4a4a4a" shape-rendering="crispEdges"/>
<rect x="782" y="5" width="1" height="1" fill="#4a4a4a" shape-rendering="crispEdges"/>
<rect x="784" y="5" width="1" height="1" fill="#4a4a4a" shape-rendering="crispEdges"/>
<rect x="772" y="8" width="1" height="1" fill="#4a4a4a" shape-rendering="crispEdges"/>
<rect x="774" y="8" width="1" height="1" fill="#4a4a4a" shape-rendering="crispEdges"/>
<rect x="776" y="8" width="1" height="1" fill="#4a4a4a" shape-rendering="crispEdges"/>
<rect x="778" y="8" width="1" height="1" fill="#4a4a4a" shape-rendering="crispEdges"/>
<rect x="780" y="8" width="1" height="1" fill="#4a4a4a" shape-rendering="crispEdges"/>
<rect x="782" y="8" width="1" height="1" fill="#4a4a4a" shape-rendering="crispEdges"/>
<rect x="784" y="8" width="1" height="1" fill="#4a4a4a" shape-rendering="crispEdges"/>
<rect x="772" y="12" width="1" height="1" fill="#4a4a4a" shape-rendering="crispEdges"/>
<rect x="774" y="12" width="1" height="1" fill="#4a4a4a" shape-rendering="crispEdges"/>
<rect x="776" y="12" width="1" height="1" fill="#4a4a4a" shape-rendering="crispEdges"/>
<rect x="778" y="12" width="1" height="1" fill="#4a4a4a" shape-rendering="crispEdges"/>
<rect x="780" y="12" width="1" height="1" fill="#4a4a4a" shape-rendering="crispEdges"/>
<rect x="782" y="12" width="1" height="1" fill="#4a4a4a" shape-rendering="crispEdges"/>
<rect x="784" y="12" width="1" height="1" fill="#4a4a4a" shape-rendering="crispEdges"/>
<rect x="772" y="16" width="1" height="1" fill="#4a4a4a" shape-rendering="crispEdges"/>
<rect x="774" y="16" width="1" height="1" fill="#4a4a4a" shape-rendering="crispEdges"/>
<rect x="776" y="16" width="1" height="1" fill="#4a4a4a" shape-rendering="crispEdges"/>
<rect x="778" y="16" width="1" height="1" fill="#4a4a4a" shape-rendering="crispEdges"/>
<rect x="780" y="16" width="1" height="1" fill="#4a4a4a" shape-rendering="crispEdges"/>
<text x="782" y="21" font-size="7" font-weight="bold" fill="#222">F</text>
<text x="802.300" y="16.900" font-size="12.500" fill="#4a4a4a" stroke="#4a4a4a" stroke-width=".35">A</text>
<rect x="829" y="6" width="1" height="1" fill="#4a4a4a" shape-rendering="crispEdges"/>
<rect x="830" y="18" width="1" height="1" fill="#4a4a4a" shape-rendering="crispEdges"/>
<rect x="831" y="6" width="1" height="1" fill="#4a4a4a" shape-rendering="crispEdges"/>
<rect x="832" y="18" width="1" height="1" fill="#4a4a4a" shape-rendering="crispEdges"/>
<rect x="833" y="6" width="1" height="1" fill="#4a4a4a" shape-rendering="crispEdges"/>
<rect x="834" y="18" width="1" height="1" fill="#4a4a4a" shape-rendering="crispEdges"/>
<rect x="835" y="6" width="1" height="1" fill="#4a4a4a" shape-rendering="crispEdges"/>
<rect x="836" y="18" width="1" height="1" fill="#4a4a4a" shape-rendering="crispEdges"/>
<rect x="837" y="6" width="1" height="1" fill="#4a4a4a" shape-rendering="crispEdges"/>
<rect x="838" y="18" width="1" height="1" fill="#4a4a4a" shape-rendering="crispEdges"/>
<rect x="839" y="6" width="1" height="1" fill="#4a4a4a" shape-rendering="crispEdges"/>
<rect x="840" y="18" width="1" height="1" fill="#4a4a4a" shape-rendering="crispEdges"/>
<rect x="829" y="7" width="1" height="1" fill="#4a4a4a" shape-rendering="crispEdges"/>
<rect x="840" y="7" width="1" height="1" fill="#4a4a4a" shape-rendering="crispEdges"/>
<rect x="829" y="9" width="1" height="1" fill="#4a4a4a" shape-rendering="crispEdges"/>
<rect x="840" y="9" width="1" height="1" fill="#4a4a4a" shape-rendering="crispEdges"/>
<rect x="829" y="11" width="1" height="1" fill="#4a4a4a" shape-rendering="crispEdges"/>
<rect x="840" y="11" width="1" height="1" fill="#4a4a4a" shape-rendering="crispEdges"/>
<rect x="829" y="13" width="1" height="1" fill="#4a4a4a" shape-rendering="crispEdges"/>
<rect x="840" y="13" width="1" height="1" fill="#4a4a4a" shape-rendering="crispEdges"/>
<rect x="829" y="15" width="1" height="1" fill="#4a4a4a" shape-rendering="crispEdges"/>
<rect x="840" y="15" width="1" height="1" fill="#4a4a4a" shape-rendering="crispEdges"/>
<rect x="829" y="17" width="1" height="1" fill="#4a4a4a" shape-rendering="crispEdges"/>
<rect x="840" y="17" width="1" height="1" fill="#4a4a4a" shape-rendering="crispEdges"/>
<rect x="830" y="5" width="2" height="1" fill="#4a4a4a" shape-rendering="crispEdges"/>
<rect x="831" y="9" width="8" height="2" fill="#4a4a4a" shape-rendering="crispEdges"/>
<rect x="834" y="11" width="2" height="6" fill="#4a4a4a" shape-rendering="crispEdges"/>
<path d="M856 10 L859.500 6 L863 10 L859.500 11 Z M863 14.500 L866.500 18.800 L870 14.500 L866.500 13.500 Z" fill="#4a4a4a"/>
<path d="M858 12.800 L860.800 15.300 L864.800 10.200" stroke="#4a4a4a" stroke-width="1.400" fill="none"/>
<rect x="877" y="11" width="5" height="1" fill="#000" shape-rendering="crispEdges"/>
<rect x="878" y="12" width="3" height="1" fill="#000" shape-rendering="crispEdges"/>
<rect x="879" y="13" width="1" height="1" fill="#000" shape-rendering="crispEdges"/>
<rect x="888" y="0" width="1" height="24" fill="#a0a0a0" shape-rendering="crispEdges"/>
<rect x="889" y="0" width="1" height="24" fill="#ffffff" shape-rendering="crispEdges"/>
<rect x="892" y="2" width="3" height="1" fill="#a6a6a6" shape-rendering="crispEdges"/>
<rect x="892" y="4" width="3" height="1" fill="#a6a6a6" shape-rendering="crispEdges"/>
<rect x="892" y="6" width="3" height="1" fill="#a6a6a6" shape-rendering="crispEdges"/>
<rect x="892" y="8" width="3" height="1" fill="#a6a6a6" shape-rendering="crispEdges"/>
<rect x="892" y="10" width="3" height="1" fill="#a6a6a6" shape-rendering="crispEdges"/>
<rect x="892" y="12" width="3" height="1" fill="#a6a6a6" shape-rendering="crispEdges"/>
<rect x="892" y="14" width="3" height="1" fill="#a6a6a6" shape-rendering="crispEdges"/>
<rect x="892" y="16" width="3" height="1" fill="#a6a6a6" shape-rendering="crispEdges"/>
<rect x="892" y="18" width="3" height="1" fill="#a6a6a6" shape-rendering="crispEdges"/>
<rect x="892" y="20" width="3" height="1" fill="#a6a6a6" shape-rendering="crispEdges"/>
<rect x="1038" y="0" width="25" height="22" fill="#f8f8f8" shape-rendering="crispEdges"/>
<rect x="1038" y="0" width="1" height="22" fill="#8c8c8c" shape-rendering="crispEdges"/>
<rect x="1038" y="0" width="25" height="1" fill="#8c8c8c" shape-rendering="crispEdges"/>
<rect x="1063" y="1" width="1" height="22" fill="#fbfbfb" shape-rendering="crispEdges"/>
<rect x="1038" y="22" width="26" height="1" fill="#fbfbfb" shape-rendering="crispEdges"/>
<text x="903.5" y="16" font-size="9.800" fill="#333" stroke="#333" stroke-width=".15" textLength="13" lengthAdjust="spacingAndGlyphs">M1</text>
<text x="931.5" y="16" font-size="9.800" fill="#333" stroke="#333" stroke-width=".15" textLength="13" lengthAdjust="spacingAndGlyphs">M5</text>
<text x="957.7" y="16" font-size="9.800" fill="#333" stroke="#333" stroke-width=".15" textLength="17.6" lengthAdjust="spacingAndGlyphs">M15</text>
<text x="985.4" y="16" font-size="9.800" fill="#333" stroke="#333" stroke-width=".15" textLength="17.8" lengthAdjust="spacingAndGlyphs">M30</text>
<text x="1016.8" y="16" font-size="9.800" fill="#333" stroke="#333" stroke-width=".15" textLength="11.7" lengthAdjust="spacingAndGlyphs">H1</text>
<text x="1043.6" y="16" font-size="9.800" fill="#333" stroke="#333" stroke-width=".15" textLength="12.2" lengthAdjust="spacingAndGlyphs">H4</text>
<text x="1072.6" y="16" font-size="9.800" fill="#333" stroke="#333" stroke-width=".15" textLength="11.6" lengthAdjust="spacingAndGlyphs">D1</text>
<text x="1100.3" y="16" font-size="9.800" fill="#333" stroke="#333" stroke-width=".15" textLength="13.9" lengthAdjust="spacingAndGlyphs">W1</text>
<text x="1126.8" y="16" font-size="9.800" fill="#333" stroke="#333" stroke-width=".15" textLength="14.7" lengthAdjust="spacingAndGlyphs">MN</text>
<rect x="1149" y="0" width="1" height="24" fill="#a0a0a0" shape-rendering="crispEdges"/>
<path d="M1616.600 12.300 l-4.800 4.500" stroke="#1c4cc0" stroke-width="2.600" stroke-linecap="round"/>
<circle cx="1619.500" cy="9.400" r="3.800" fill="#f4f6ff" stroke="#1c4cc0" stroke-width="1.400"/>
<path d="M1637 20.400 h10" stroke="#d2d2d2" stroke-width="1"/>
<path d="M1636.500 14 a6 4.800 0 1 1 8 4.500 l-3.500 .300 l-1.500 1.800 l-.500 -2.100 a6 4.800 0 0 1 -2.500 -4.500 z" fill="#e9eaf2" stroke="#b8b8b8" stroke-width="1"/>
<circle cx="1650.600" cy="9.400" r="8.400" fill="url(#rd)"/>
<text x="1649.700" y="14" font-size="13" font-weight="bold" fill="#fff" text-anchor="middle" style="font-family:'Liberation Serif',serif">1</text>
</g>
</svg>
</body></html>
